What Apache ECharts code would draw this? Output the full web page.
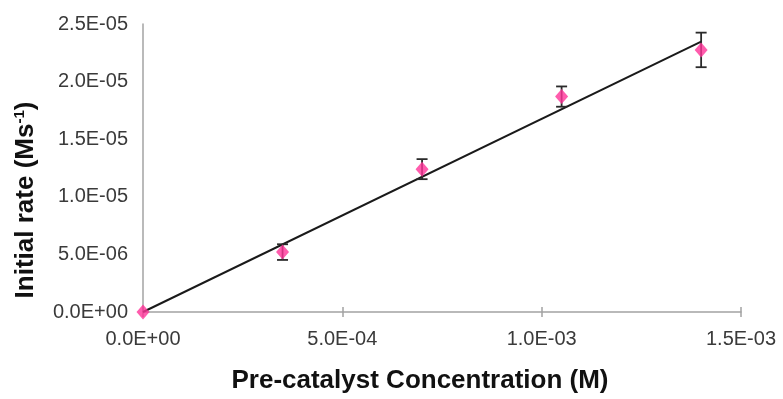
<!DOCTYPE html>
<html>
<head>
<meta charset="utf-8">
<script src="https://cdn.jsdelivr.net/npm/echarts@6/dist/echarts.min.js"></script>
<style>html,body{margin:0;padding:0;background:#fff}#c{width:783px;height:399px}</style>
</head>
<body>
<div id="c"></div>
<script>
const concX = [0, 3.5e-4, 7.0e-4, 1.05e-3, 1.4e-3];
const rateY = [0, 5.2e-6, 1.24e-5, 1.87e-5, 2.275e-5];
const rateErr = [0, 6.8e-7, 8.7e-7, 8.8e-7, 1.5e-6];
const trendX = [0, 1.4e-3];
const trendY = [0, 2.347e-5];
const xTickLabels = ['0.0E+00', '5.0E-04', '1.0E-03', '1.5E-03'];
const yTickLabels = ['0.0E+00', '5.0E-06', '1.0E-05', '1.5E-05', '2.0E-05', '2.5E-05'];

const FONT = '"Liberation Sans", Arial, sans-serif';
const chart = echarts.init(document.getElementById('c'));

const pts = concX.map((x, i) => [x, rateY[i]]);
const errData = concX.map((x, i) => [x, rateY[i] - rateErr[i], rateY[i] + rateErr[i]]).filter((d, i) => rateErr[i] > 0);
const trend = trendX.map((x, i) => [x, trendY[i]]);

const axisLine = { show: true, lineStyle: { color: '#a3a3a3', width: 1.5 } };

chart.setOption({
  animation: false,
  grid: { left: 143, right: 42, top: 24, bottom: 86 },
  xAxis: [{
    type: 'value', min: 0, max: 1.5e-3, interval: 5e-4,
    axisLine: axisLine,
    axisTick: { show: true, length: 5, lineStyle: { color: '#a3a3a3', width: 1.5 } },
    splitLine: { show: false },
    axisLabel: { margin: 17, fontSize: 20, color: '#3a3a3a', fontFamily: FONT,
      formatter: (v, i) => xTickLabels[i] },
    name: 'Pre-catalyst Concentration (M)',
    nameLocation: 'middle', nameGap: 56,
    nameTextStyle: { fontSize: 26, fontWeight: 'bold', color: '#111', fontFamily: FONT, padding: [0, 44, 0, 0] }
  }, {
    type: 'value', min: 0, max: 1.5e-3, interval: 5e-4, position: 'bottom',
    axisLine: { show: false },
    axisTick: { show: true, inside: true, length: 5, lineStyle: { color: '#a3a3a3', width: 1.5 } },
    axisLabel: { show: false }, splitLine: { show: false }
  }],
  yAxis: {
    type: 'value', min: 0, max: 2.5e-5, interval: 5e-6,
    axisLine: axisLine,
    axisTick: { show: false },
    splitLine: { show: false },
    axisLabel: { margin: 15, fontSize: 20, color: '#3a3a3a', fontFamily: FONT,
      formatter: (v, i) => yTickLabels[i] },
    name: '{a|Initial rate (Ms}{s|-1}{a|)}',
    nameLocation: 'middle', nameGap: 104,
    nameTextStyle: {
      padding: [0, 64, 0, 0],
      rich: {
        a: { fontSize: 26, fontWeight: 'bold', color: '#111', fontFamily: FONT },
        s: { fontSize: 15, fontWeight: 'bold', color: '#111', fontFamily: FONT, verticalAlign: 'top', padding: [0, 0, 12, 0] }
      }
    }
  },
  series: [{
    type: 'line', data: trend, symbol: 'none', z: 3,
    lineStyle: { color: '#1a1a1a', width: 2 }
  }, {
    type: 'custom', data: errData, z: 4,
    renderItem: function (params, api) {
      const x = api.value(0);
      const lo = api.coord([x, api.value(1)]);
      const hi = api.coord([x, api.value(2)]);
      const w = 5.5;
      const st = { stroke: '#2a2a2a', lineWidth: 1.8 };
      return { type: 'group', children: [
        { type: 'line', shape: { x1: lo[0], y1: lo[1], x2: hi[0], y2: hi[1] }, style: st },
        { type: 'line', shape: { x1: lo[0] - w, y1: lo[1], x2: lo[0] + w, y2: lo[1] }, style: st },
        { type: 'line', shape: { x1: hi[0] - w, y1: hi[1], x2: hi[0] + w, y2: hi[1] }, style: st }
      ]};
    }
  }, {
    type: 'scatter', data: pts, symbol: 'diamond', symbolSize: [13, 15], z: 5, clip: false,
    itemStyle: { color: '#ff3399' }
  }]
});
</script>
</body>
</html>
